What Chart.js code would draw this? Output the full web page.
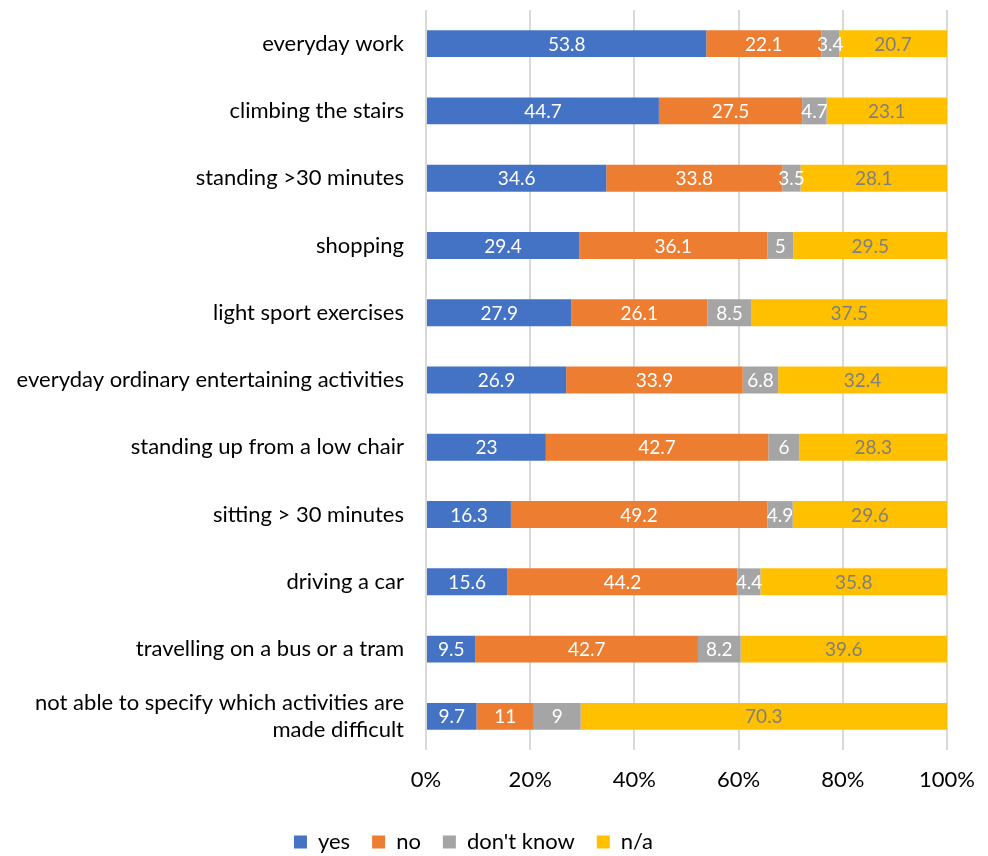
<!DOCTYPE html>
<html>
<head>
<meta charset="utf-8">
<script src="https://cdn.jsdelivr.net/npm/chart.js@4"></script>
<style>
  html, body { margin: 0; padding: 0; background: #fff; }
  #wrap { width: 988px; height: 856px; }
</style>
</head>
<body>
<div id="wrap"><canvas id="chart"></canvas></div>
<script>
const categories = [
  'everyday work',
  'climbing the stairs',
  'standing >30 minutes',
  'shopping',
  'light sport exercises',
  'everyday ordinary entertaining activities',
  'standing up from a low chair',
  'sitting > 30 minutes',
  'driving a car',
  'travelling on a bus or a tram',
  ['not able to specify which activities are', 'made difficult']
];
const yes = [53.8, 44.7, 34.6, 29.4, 27.9, 26.9, 23, 16.3, 15.6, 9.5, 9.7];
const no = [22.1, 27.5, 33.8, 36.1, 26.1, 33.9, 42.7, 49.2, 44.2, 42.7, 11];
const dontKnow = [3.4, 4.7, 3.5, 5, 8.5, 6.8, 6, 4.9, 4.4, 8.2, 9];
const na = [20.7, 23.1, 28.1, 29.5, 37.5, 32.4, 28.3, 29.6, 35.8, 39.6, 70.3];
const xTicks = [0, 20, 40, 60, 80, 100];

const fontFamily = 'Lato, "Open Sans", sans-serif';

// draws the value in the middle of each segment
const barLabels = {
  id: 'barLabels',
  afterDatasetsDraw(chart) {
    const ctx = chart.ctx;
    ctx.save();
    ctx.font = '19px ' + fontFamily;
    ctx.textAlign = 'center';
    ctx.textBaseline = 'middle';
    chart.data.datasets.forEach((ds, i) => {
      const meta = chart.getDatasetMeta(i);
      meta.data.forEach((bar, j) => {
        const cx = (bar.x + bar.base) / 2;
        ctx.fillStyle = ds.labelColor;
        ctx.fillText(String(ds.data[j]), cx, bar.y + 1);
      });
    });
    ctx.restore();
  }
};

new Chart(document.getElementById('chart'), {
  type: 'bar',
  data: {
    labels: categories,
    datasets: [
      { label: 'yes', data: yes, backgroundColor: '#4472C4', labelColor: '#ffffff' },
      { label: 'no', data: no, backgroundColor: '#ED7D31', labelColor: '#ffffff' },
      { label: "don't know", data: dontKnow, backgroundColor: '#A5A5A5', labelColor: '#ffffff' },
      { label: 'n/a', data: na, backgroundColor: '#FFC000', labelColor: '#7f7f7f' }
    ]
  },
  options: {
    indexAxis: 'y',
    responsive: true,
    maintainAspectRatio: false,
    animation: false,
    barPercentage: 0.8,
    categoryPercentage: 0.5,
    layout: { padding: { top: 10, right: 41, left: 0, bottom: -7 } },
    scales: {
      x: {
        stacked: true,
        min: 0,
        max: 100,
        afterBuildTicks(scale) {
          scale.ticks = xTicks.map(v => ({ value: v }));
        },
        afterFit(scale) {
          scale.height = 59;
          scale.paddingLeft = 0;
          scale.paddingRight = 0;
        },
        grid: { color: '#d9d9d9', lineWidth: 2, drawTicks: false },
        border: { display: false },
        ticks: {
          padding: 17,
          color: '#000',
          font: { family: fontFamily, size: 22 },
          callback: v => v + '%'
        }
      },
      y: {
        stacked: true,
        afterFit(scale) {
          scale.width = 426;
          scale.paddingTop = 0;
          scale.paddingBottom = 0;
        },
        grid: { display: false, drawTicks: false },
        border: { display: false },
        ticks: {
          padding: 22,
          color: '#000',
          font: { family: fontFamily, size: 22 }
        }
      }
    },
    plugins: {
      legend: {
        position: 'bottom',
        labels: {
          boxWidth: 13,
          boxHeight: 13,
          padding: 22,
          color: '#000',
          font: { family: fontFamily, size: 22 }
        }
      },
      tooltip: { enabled: false }
    }
  },
  plugins: [barLabels]
});
</script>
</body>
</html>
